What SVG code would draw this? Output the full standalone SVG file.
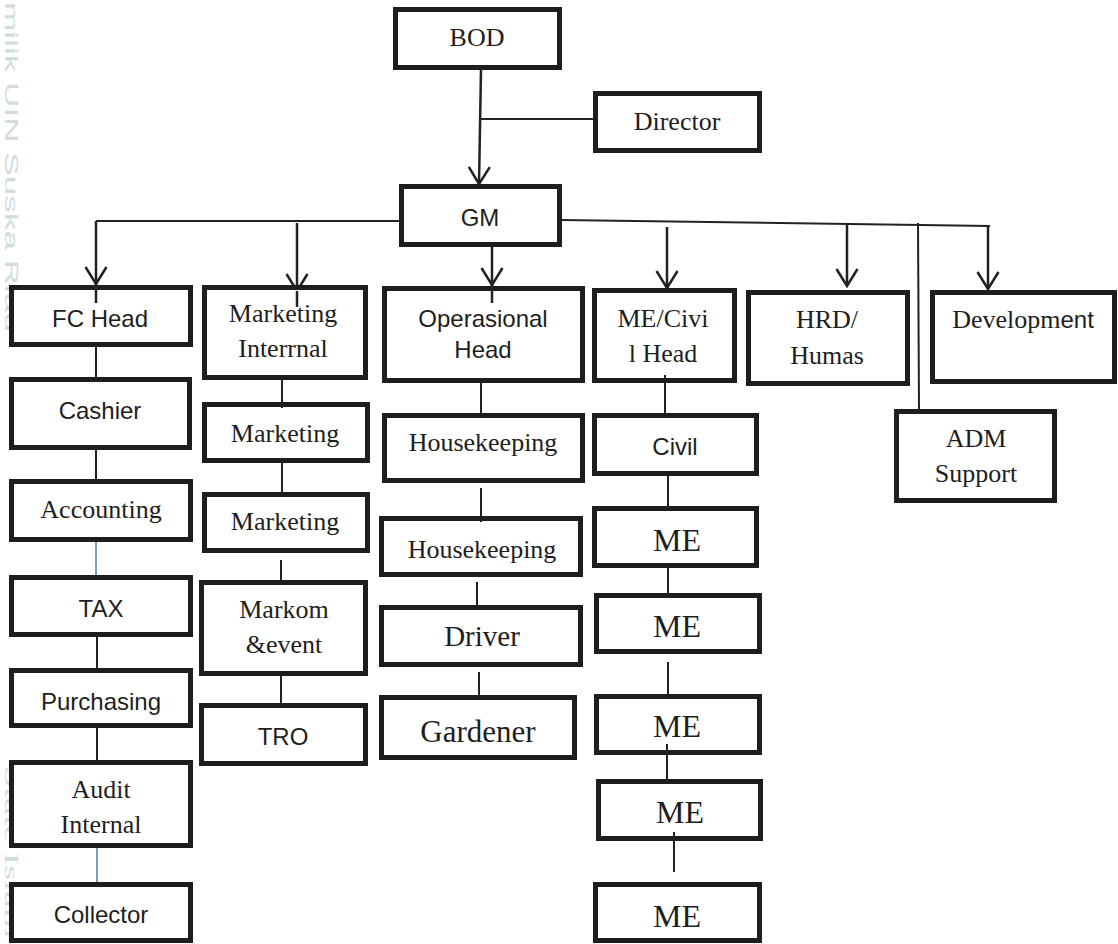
<svg xmlns="http://www.w3.org/2000/svg" width="1118" height="944" viewBox="0 0 1118 944">
<defs>
<style>
.box{fill:#fff;stroke:#1e1e1e;stroke-width:5}
.s{font-family:"Liberation Sans",Arial,sans-serif;font-size:24px;fill:#1e1e1e;text-anchor:middle}
.t{font-family:"Liberation Serif","Times New Roman",serif;font-size:26px;fill:#1e1e1e;text-anchor:middle}
.c{fill:none;stroke:#222;stroke-width:2}
.a{fill:none;stroke:#222;stroke-width:2.5}
.b{fill:none;stroke:#6b93c6;stroke-width:1.8}
.wm{font-family:"Liberation Sans",Arial,sans-serif;font-size:18px;fill:#cfdcdc}
.wms{font-family:"Liberation Serif","Times New Roman",serif;font-size:18px;fill:#cfdcdc}
</style>
<marker id="chev" viewBox="-20 -13 22 26" refX="0" refY="0" markerWidth="22" markerHeight="26" markerUnits="userSpaceOnUse" orient="auto">
<path d="M-17,-10.5 L0,0 L-17,10.5" fill="none" stroke="#222" stroke-width="2.5"/>
</marker>
</defs>
<rect width="1118" height="944" fill="#fff"/>
<g id="watermark">
<text class="wm" transform="translate(4.5,2) rotate(90)" textLength="330" lengthAdjust="spacingAndGlyphs">milik UIN Suska Riau</text>
<text class="wms" transform="translate(4.5,766) rotate(90)" textLength="172" lengthAdjust="spacingAndGlyphs">State Islam</text>
</g>
<g id="connectors">
<path class="a" d="M481,70 L479,184" marker-end="url(#chev)"/>
<path class="c" d="M480,119 L594,119"/>
<path class="c" d="M96,221 L400,221"/>
<path class="c" d="M561,220 L990,226"/>
<path class="a" d="M96,221 L96,284 L96,303" marker-mid="url(#chev)"/>
<path class="a" d="M297,223 L297,291 L297,307" marker-mid="url(#chev)"/>
<path class="a" d="M492,247 L492,285 L492,303" marker-mid="url(#chev)"/>
<path class="a" d="M667,227 L667,288" marker-end="url(#chev)"/>
<path class="a" d="M847,224 L847,286" marker-end="url(#chev)"/>
<path class="c" d="M918,223 L919,409"/>
<path class="a" d="M988,226 L988,289" marker-end="url(#chev)"/>
<path class="c" d="M96,347 L96,377"/>
<path class="c" d="M96,450 L96,479"/>
<path class="b" d="M96,542 L96,575"/>
<path class="c" d="M97,637 L97,668"/>
<path class="c" d="M97,728 L97,760"/>
<path class="b" d="M97,848 L97,882"/>
<path class="c" d="M282,380 L282,405"/>
<path class="c" d="M282,463 L282,495"/>
<path class="c" d="M281,560 L281,580"/>
<path class="c" d="M281,676 L281,703"/>
<path class="c" d="M481,383 L481,413"/>
<path class="c" d="M481,488 L481,520"/>
<path class="c" d="M477,582 L477,605"/>
<path class="c" d="M479,672 L479,695"/>
<path class="c" d="M665,375 L665,413"/>
<path class="c" d="M668,476 L668,506"/>
<path class="c" d="M668,568 L668,593"/>
<path class="c" d="M668,662 L668,694"/>
<path class="c" d="M667,744 L667,780"/>
<path class="c" d="M674,832 L674,872"/>
</g>
<g id="bod"><rect class="box" x="395.5" y="9.5" width="164" height="58"/><text class="t" x="477" y="46">BOD</text></g>
<g id="director"><rect class="box" x="595.5" y="93.5" width="164" height="57"/><text class="t" x="677" y="130">Director</text></g>
<g id="gm"><rect class="box" x="401.5" y="186.5" width="158" height="58"/><text class="s" x="480" y="226">GM</text></g>
<g id="fc-head"><rect class="box" x="11.5" y="287.5" width="179" height="57"/><text class="s" x="100" y="327">FC Head</text></g>
<g id="cashier"><rect class="box" x="11.5" y="379.5" width="178" height="68"/><text class="s" x="100" y="419">Cashier</text></g>
<g id="accounting"><rect class="box" x="11.5" y="481.5" width="179" height="58"/><text class="t" x="101" y="518">Accounting</text></g>
<g id="tax"><rect class="box" x="11.5" y="577.5" width="179" height="57"/><text class="s" x="101" y="617">TAX</text></g>
<g id="purchasing"><rect class="box" x="11.5" y="670.5" width="179" height="55"/><text class="s" x="101" y="710">Purchasing</text></g>
<g id="audit-internal"><rect class="box" x="11.5" y="762.5" width="179" height="83"/><text class="t" x="101" y="798">Audit</text><text class="t" x="101" y="833">Internal</text></g>
<g id="collector"><rect class="box" x="11.5" y="884.5" width="179" height="56"/><text class="s" x="101" y="923">Collector</text></g>
<g id="marketing-internal"><rect class="box" x="204.5" y="287.5" width="161" height="90"/><text class="t" x="283" y="322">Marketing</text><text class="t" x="283" y="357">Interrnal</text></g>
<g id="marketing-1"><rect class="box" x="204.5" y="404.5" width="163" height="56"/><text class="t" x="285" y="442">Marketing</text></g>
<g id="marketing-2"><rect class="box" x="204.5" y="494.5" width="163" height="56"/><text class="t" x="285" y="530">Marketing</text></g>
<g id="markom-event"><rect class="box" x="201.5" y="582.5" width="164" height="91"/><text class="t" x="284" y="618">Markom</text><text class="t" x="284" y="653">&amp;event</text></g>
<g id="tro"><rect class="box" x="201.5" y="705.5" width="164" height="58"/><text class="s" x="283" y="745">TRO</text></g>
<g id="operasional-head"><rect class="box" x="384.5" y="288.5" width="198" height="92"/><text class="s" x="483" y="327">Operasional</text><text class="s" x="483" y="358">Head</text></g>
<g id="housekeeping-1"><rect class="box" x="384.5" y="415.5" width="198" height="65"/><text class="t" x="483" y="451">Housekeeping</text></g>
<g id="housekeeping-2"><rect class="box" x="381.5" y="518.5" width="199" height="56"/><text class="t" x="482" y="558">Housekeeping</text></g>
<g id="driver"><rect class="box" x="381.5" y="607.5" width="199" height="57"/><text class="t" x="482" y="646" style="font-size:29px">Driver</text></g>
<g id="gardener"><rect class="box" x="381.5" y="697.5" width="193" height="60"/><text class="t" x="478" y="742" style="font-size:31px">Gardener</text></g>
<g id="me-civil-head"><rect class="box" x="594.5" y="290.5" width="140" height="90"/><text class="t" x="663" y="327">ME/Civi</text><text class="t" x="663" y="362">l Head</text></g>
<g id="civil"><rect class="box" x="594.5" y="415.5" width="162" height="58"/><text class="s" x="675" y="455">Civil</text></g>
<g id="me-1"><rect class="box" x="594.5" y="508.5" width="162" height="57"/><text class="t" x="677" y="551" style="font-size:32px">ME</text></g>
<g id="me-2"><rect class="box" x="596.5" y="595.5" width="163" height="56"/><text class="t" x="677" y="637" style="font-size:32px">ME</text></g>
<g id="me-3"><rect class="box" x="596.5" y="696.5" width="163" height="56"/><text class="t" x="677" y="737" style="font-size:32px">ME</text></g>
<g id="me-4"><rect class="box" x="598.5" y="781.5" width="162" height="57"/><text class="t" x="680" y="823" style="font-size:32px">ME</text></g>
<g id="me-5"><rect class="box" x="595.5" y="884.5" width="164" height="56"/><text class="t" x="677" y="927" style="font-size:32px">ME</text></g>
<g id="hrd-humas"><rect class="box" x="748.5" y="292.5" width="159" height="91"/><text class="t" x="827" y="328">HRD/</text><text class="t" x="827" y="364">Humas</text></g>
<g id="development"><rect class="box" x="932.5" y="292.5" width="182" height="89"/><text class="t" x="1023" y="328">Developm<tspan style="font-family:'Liberation Sans',Arial,sans-serif;font-size:24px">ent</tspan></text></g>
<g id="adm-support"><rect class="box" x="896.5" y="411.5" width="158" height="89"/><text class="t" x="976" y="447">ADM</text><text class="t" x="976" y="482">Support</text></g>
<g id="overlay-connectors">
<path class="a" d="M96,284 L96,303"/>
<path class="a" d="M297,291 L297,307"/>
<path class="a" d="M492,285 L492,303"/>
<path class="c" d="M282,404.5 L282,408"/>
<path class="c" d="M481,518.5 L481,522"/>
<path class="c" d="M665,375 L665,381"/>
<path class="c" d="M667,744 L667,783"/>
<path class="c" d="M674,832 L674,841"/>
</g>
</svg>
